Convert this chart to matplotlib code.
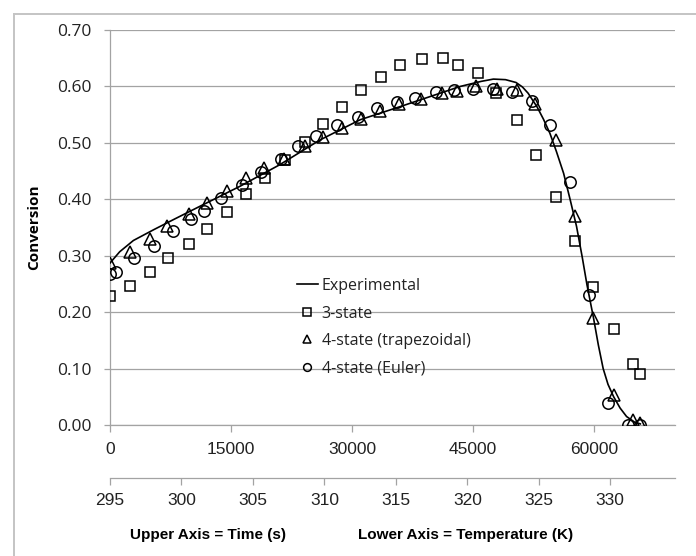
"""Conversion vs time / temperature — experimental curve against 3-state and 4-state models.

Writes out.png (696x556).
"""
import matplotlib
matplotlib.use("Agg")
import matplotlib.pyplot as plt
from matplotlib.lines import Line2D
from matplotlib.ticker import FixedLocator, StrMethodFormatter

# experimental curve (time in s, conversion)
exp_t = [0, 1200, 2900, 5400, 8000, 11200, 16100, 21000, 26000, 31000, 35900,
         38400, 43400, 46000, 47500, 49000, 50300, 51100, 51800, 52300, 52900,
         53700, 54500, 55300, 56200, 57000, 57800, 58500, 59100, 59900, 60500,
         61100, 61700, 62400, 63200, 64000, 65000, 65700]
exp_y = [0.287, 0.307, 0.327, 0.346, 0.365, 0.388, 0.423, 0.461, 0.505, 0.541, 0.564,
         0.576, 0.600, 0.609, 0.613, 0.612, 0.607, 0.599, 0.588, 0.577, 0.564,
         0.542, 0.517, 0.485, 0.446, 0.400, 0.352, 0.298, 0.248, 0.190, 0.142,
         0.100, 0.072, 0.050, 0.030, 0.015, 0.005, 0.002]

# 3-state model
s3_t = [0, 2500, 4900, 7200, 9800, 12000, 14500, 16900, 19200, 21700, 24200,
        26400, 28800, 31100, 33600, 35900, 38600, 41200, 43100, 45600, 47800,
        50400, 52800, 55300, 57600, 59900, 62400, 64800, 65700]
s3_y = [0.228, 0.247, 0.272, 0.296, 0.321, 0.347, 0.377, 0.410, 0.438, 0.469, 0.502,
        0.534, 0.564, 0.593, 0.617, 0.638, 0.649, 0.651, 0.638, 0.624, 0.589,
        0.541, 0.478, 0.404, 0.326, 0.244, 0.170, 0.108, 0.090]

# 4-state, trapezoidal
s4t_t = [0, 2500, 4900, 7100, 9800, 12000, 14500, 16800, 19100, 21600, 24200,
         26400, 28700, 31100, 33500, 35800, 38500, 41100, 43000, 45400, 47900,
         50400, 52700, 55300, 57600, 59900, 62400, 64800, 65700]
s4t_y = [0.287, 0.307, 0.329, 0.352, 0.374, 0.394, 0.415, 0.437, 0.455, 0.472, 0.495,
         0.511, 0.527, 0.542, 0.557, 0.568, 0.578, 0.588, 0.592, 0.600, 0.595,
         0.594, 0.569, 0.505, 0.371, 0.190, 0.053, 0.009, 0.003]

# 4-state, Euler
s4e_t = [0, 700, 3000, 5400, 7800, 10000, 11600, 13800, 16300, 18700, 21200,
         23300, 25500, 28100, 30700, 33100, 35500, 37800, 40400, 42600, 45000,
         47400, 49800, 52300, 54500, 57000, 59400, 61700, 64200, 65700]
s4e_y = [0.268, 0.272, 0.296, 0.318, 0.343, 0.365, 0.380, 0.402, 0.426, 0.449, 0.471,
         0.494, 0.512, 0.531, 0.546, 0.562, 0.572, 0.580, 0.591, 0.594, 0.596,
         0.596, 0.591, 0.575, 0.531, 0.431, 0.230, 0.039, 0.000, 0.000]

y_ticks = [0.0, 0.1, 0.2, 0.3, 0.4, 0.5, 0.6, 0.7]
time_ticks = [0, 15000, 30000, 45000, 60000]
temp_ticks = [295, 300, 305, 310, 315, 320, 325, 330]

T0, K_PER_S = 295.0, 5.647e-4   # lower axis: temperature ramp vs time

GRID = "#a3a3a3"
BORDER = "#c4c4c4"
CAL = ["Open Sans", "DejaVu Sans"]
ARIAL = ["Liberation Sans", "DejaVu Sans"]

fig = plt.figure(figsize=(6.96, 5.56), dpi=100)
ax = fig.add_axes([110 / 696, 1 - 425 / 556, 565 / 696, 395 / 556])

ax.plot(exp_t, exp_y, color="black", lw=1.2, label="Experimental", zorder=3)
mk = dict(ls="none", mfc="none", mec="black", mew=1.1, zorder=4)
ax.plot(s3_t, s3_y, marker="s", ms=7.6, label="3-state", **mk)
ax.plot(s4t_t, s4t_y, marker="^", ms=8.2, label="4-state (trapezoidal)", **mk)
ax.plot(s4e_t, s4e_y, marker="o", ms=8.2, label="4-state (Euler)", **mk)

ax.set_xlim(0, 70000)
ax.set_ylim(0, 0.70)
ax.yaxis.set_major_locator(FixedLocator(y_ticks))
ax.yaxis.set_major_formatter(StrMethodFormatter("{x:.2f}"))
ax.xaxis.set_major_locator(FixedLocator(time_ticks))
ax.xaxis.set_major_formatter(StrMethodFormatter("{x:.0f}"))
ax.yaxis.grid(True, color=GRID, lw=0.9)
ax.set_axisbelow(True)

for side in ("top", "right"):
    ax.spines[side].set_visible(False)
for side in ("left", "bottom"):
    ax.spines[side].set_color(GRID)
    ax.spines[side].set_linewidth(0.9)

ax.tick_params(axis="y", length=4.5, width=0.9, color=GRID, pad=9,
               labelsize=12.5, labelcolor="#222222")
ax.tick_params(axis="x", length=5, width=0.9, color=GRID, pad=7,
               labelsize=12.5, labelcolor="#222222")
for lab in ax.get_yticklabels():
    lab.set_family(CAL)
for lab in ax.get_xticklabels():
    lab.set_family(ARIAL)

sec = ax.secondary_xaxis(-0.134, functions=(lambda t: T0 + t * K_PER_S,
                                             lambda T: (T - T0) / K_PER_S))
sec.xaxis.set_major_locator(FixedLocator(temp_ticks))
sec.xaxis.set_major_formatter(StrMethodFormatter("{x:.0f}"))
sec.spines["bottom"].set_color(GRID)
sec.spines["bottom"].set_linewidth(0.9)
sec.tick_params(axis="x", length=5, width=0.9, color=GRID, pad=6,
                labelsize=12.5, labelcolor="#222222")
for lab in sec.get_xticklabels():
    lab.set_family(ARIAL)

ax.set_ylabel("Conversion", family=CAL, fontsize=11, fontweight="bold")
ax.yaxis.set_label_coords(-0.122, 0.5)

fig.text(208 / 696, 1 - 535 / 556, "Upper Axis = Time (s)", ha="center",
         va="center", family=ARIAL, fontsize=11, fontweight="bold")
fig.text(466 / 696, 1 - 535 / 556, "Lower Axis = Temperature (K)", ha="center",
         va="center", family=ARIAL, fontsize=11, fontweight="bold")

leg = ax.legend(loc="upper left", bbox_to_anchor=(0.331, 0.372), frameon=False,
                borderpad=0, borderaxespad=0, handlelength=1.3, handletextpad=0.25,
                labelspacing=0.72, markerscale=0.68,
                prop={"family": CAL, "size": 11.5})
for txt in leg.get_texts():
    txt.set_color("#222222")

# light chart-area border (top and left edges only visible in the crop)
fig.add_artist(Line2D([14 / 696, 14 / 696], [0, 1 - 14 / 556],
                      transform=fig.transFigure, color=BORDER, lw=1.4))
fig.add_artist(Line2D([14 / 696, 1], [1 - 14 / 556, 1 - 14 / 556],
                      transform=fig.transFigure, color=BORDER, lw=1.4))

fig.savefig("out.png", dpi=100, facecolor="white")
